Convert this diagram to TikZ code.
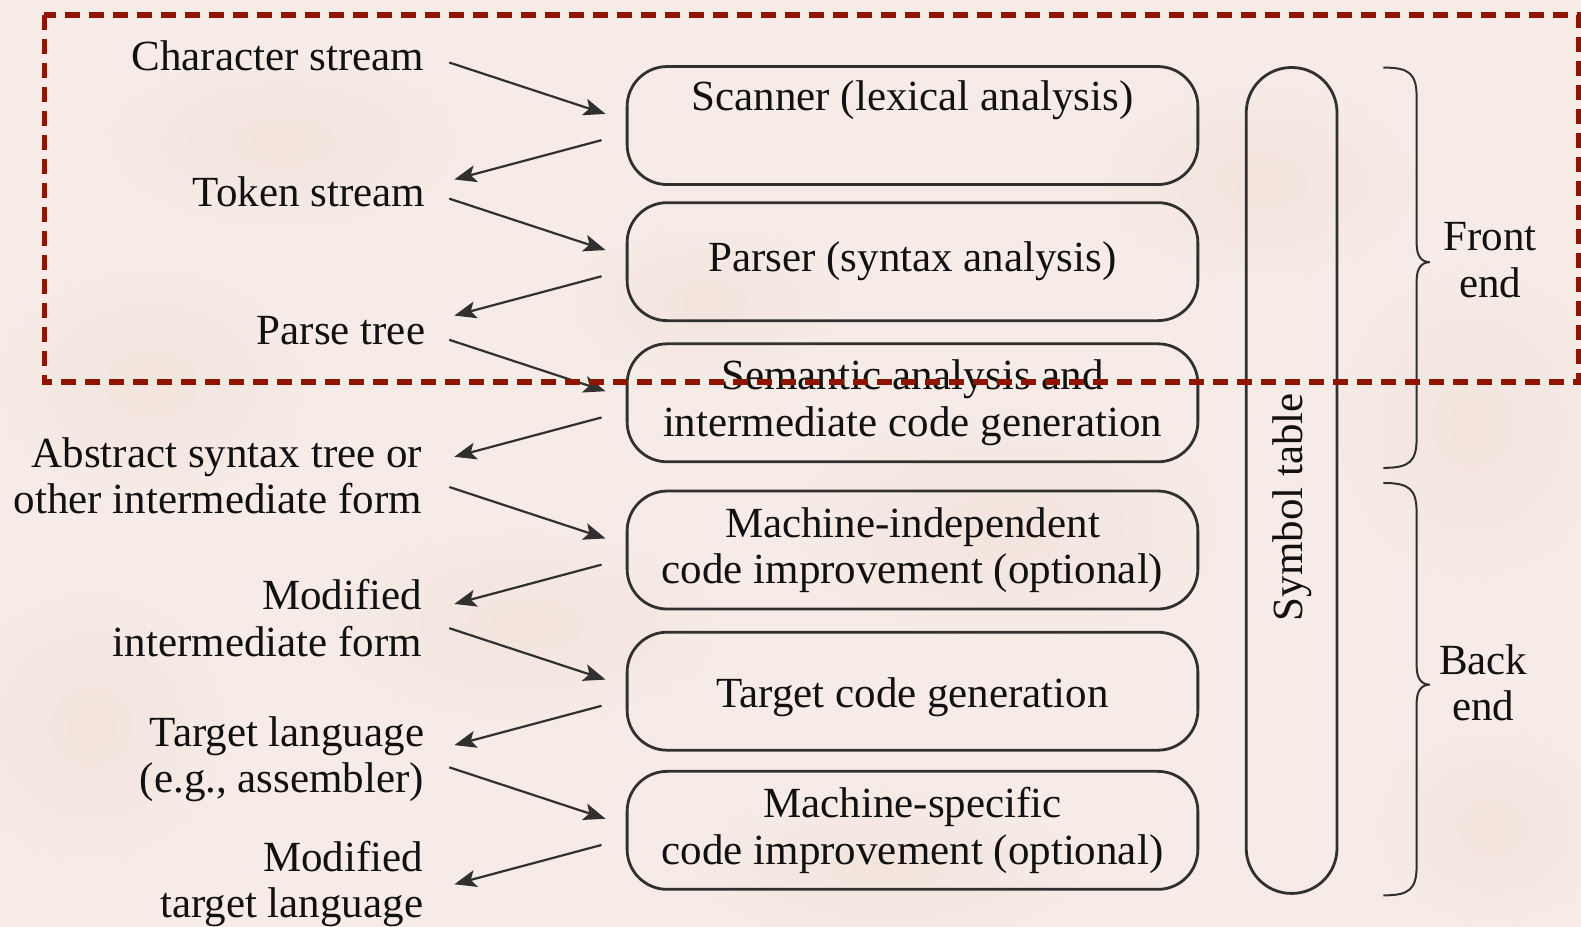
\documentclass[tikz,border=0pt]{standalone}
\usepackage{fontspec}
\setmainfont{Liberation Serif}
\usetikzlibrary{arrows.meta,calc}

\definecolor{paper}{HTML}{F6EBE6}
\definecolor{blotch}{HTML}{F0DDD3}
\definecolor{ink}{HTML}{111111}
\definecolor{linegray}{HTML}{303030}
\definecolor{framered}{HTML}{911400}

\begin{document}
\begin{tikzpicture}[
  x=0.5042pt, y=-0.5042pt,
  every node/.style={font=\fontsize{21.5}{23.2}\selectfont, text=ink},
  stagebox/.style={draw=linegray, line width=1.4pt, rounded corners=20pt,
    minimum width=285.4pt, minimum height=59pt, inner sep=0pt, align=center},
  pill/.style={draw=linegray, line width=1.4pt, rounded corners=22.6pt,
    minimum width=45.4pt, minimum height=413pt, inner sep=0pt},
  sidelabel/.style={anchor=east, align=right, inner sep=0pt},
  endlabel/.style={align=center, inner sep=0pt},
  flow/.style={draw=linegray, line width=1.1pt,
    -{Stealth[length=11pt,width=8.5pt,inset=2.5pt]}},
  bracket/.style={draw=linegray, line width=1pt},
  frame/.style={draw=framered, line width=2.8pt, dash pattern=on 7.5pt off 4.5pt}
]
% paper background
\useasboundingbox (0,0) rectangle (1568,919);
\fill[paper] (0,0) rectangle (1568,919);
\foreach \px/\py/\rx/\ry in {280/140/90/45, 150/380/80/60, 520/620/100/50,
  1000/520/110/60, 1460/420/70/80, 880/860/100/40, 90/720/70/70,
  1250/180/80/50, 700/300/70/40, 1480/820/60/50}{
  \shade[inner color=blotch, outer color=paper, opacity=0.45]
    (\px,\py) ellipse [x radius=\rx pt, y radius=\ry pt];
}

% compiler phases
\node[stagebox] (b1) at (905,124.5) {Scanner (lexical analysis)\\\strut};
\node[stagebox] (b2) at (905,259.5) {Parser (syntax analysis)};
\node[stagebox] (b3) at (905,399.5) {Semantic analysis and\\intermediate code generation};
\node[stagebox] (b4) at (905,545.5) {Machine-independent\\code improvement (optional)};
\node[stagebox] (b5) at (905,685.5) {\raisebox{-3pt}[\height][\depth]{Target code generation}};
\node[stagebox] (b6) at (905,823.5) {Machine-specific\\code improvement (optional)};

% symbol table
\node[pill] (sym) at (1281,476.5) {};
\node[rotate=90, inner sep=0pt] (symtxt) at (1282,503) {Symbol table};

% intermediate representations
\node[sidelabel] (l1) at (421,55) {Character stream};
\node[sidelabel] (l2) at (422,190) {Token stream};
\node[sidelabel] (l3) at (422,328) {Parse tree};
\node[sidelabel] (l4) at (419,472) {Abstract syntax tree or\\other intermediate form};
\node[sidelabel] (l5) at (419,613) {Modified\\intermediate form};
\node[sidelabel] (l6) at (421,753) {Target language\\(e.g., assembler)};
\node[sidelabel] (l7) at (420,877) {Modified\\target language};

% data flowing into and out of each phase
\foreach \b in {b1,b2,b3,b4,b5,b6}{
  \draw[flow] ($(\b.west)+(-175,-62.5)$) -- ($(\b.west)+(-20,-11.5)$);
  \draw[flow] ($(\b.west)+(-24,14.5)$) -- ($(\b.west)+(-170,53.5)$);
}

% front end / back end braces
\draw[bracket] (1372,67) .. controls (1398,67) and (1405,73) .. (1405,97)
  -- (1405,242) .. controls (1405,254) and (1410,260) .. (1418,260)
  .. controls (1410,260) and (1405,266) .. (1405,278)
  -- (1405,434) .. controls (1405,458) and (1398,464) .. (1372,464);
\draw[bracket] (1372,479) .. controls (1398,479) and (1405,485) .. (1405,509)
  -- (1405,661) .. controls (1405,673) and (1410,679) .. (1418,679)
  .. controls (1410,679) and (1405,685) .. (1405,697)
  -- (1405,858) .. controls (1405,882) and (1398,888) .. (1372,888);
\node[endlabel] (fe) at (1478,258) {Front\\end};
\node[endlabel] (be) at (1471,677) {Back\\end};

% highlighted front-end region
\draw[frame] (44,15) rectangle (1566,379);
\end{tikzpicture}
\end{document}
